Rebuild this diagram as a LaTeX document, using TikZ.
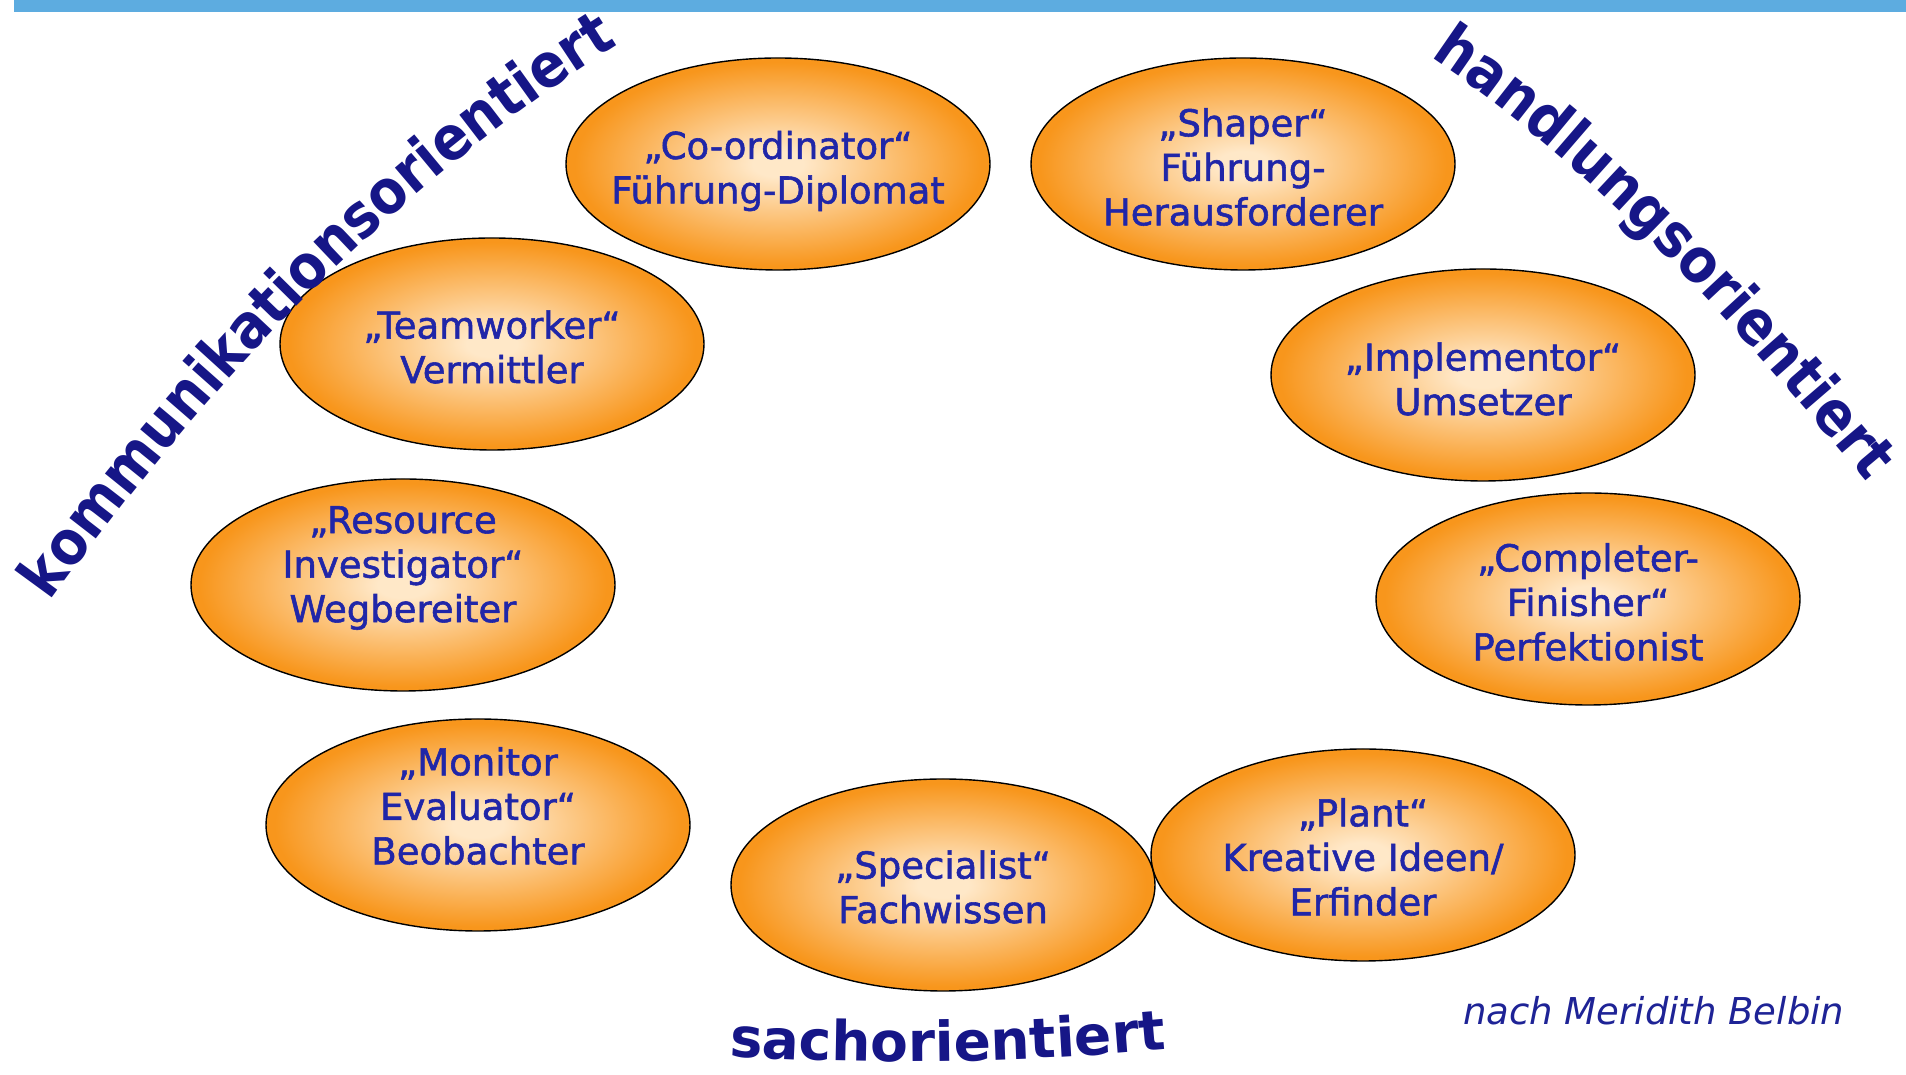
\documentclass[tikz,border=0pt]{standalone}
\usepackage{fontspec}
\setmainfont{DejaVu Sans}
\newfontfamily\curvefont{DejaVu Sans}[FakeStretch=0.89]
\newfontfamily\sachfont{DejaVu Sans}
\newfontfamily\eggfont{DejaVu Sans}[FakeBold=1.5]
\usetikzlibrary{shapes.geometric,decorations.text}
\definecolor{barblue}{RGB}{93,172,224}
\definecolor{eggin}{RGB}{255,232,200}
\definecolor{eggout}{RGB}{248,150,28}
\definecolor{eggtxt}{RGB}{32,38,168}
\definecolor{curvetxt}{RGB}{22,22,135}
\definecolor{credittxt}{RGB}{30,35,150}
\pgfdeclareradialshading{eggshade}{\pgfpoint{0bp}{0bp}}{color(0bp)=(eggin); color(3bp)=(eggin); color(24bp)=(eggout); color(50bp)=(eggout)}
\begin{document}
\begin{tikzpicture}[x=1pt,y=1pt,
  egg/.style={ellipse, draw=black, line width=1.4pt, shade, shading=eggshade,
    minimum width=424pt, minimum height=212pt, inner sep=0pt},
  eggtext/.style={align=center, text=eggtxt, font=\eggfont\fontsize{37}{44.5}\selectfont, inner sep=0pt}
]
\useasboundingbox (0,0) rectangle (1906,1075);
\fill[white] (0,0) rectangle (1906,1075);
\fill[barblue] (14,1063) rectangle (1906,1075);

% ellipses
\node[egg] (coord) at (778,911) {};
\node[eggtext] (coordt) at ([yshift=-7pt]coord.center) {„Co-ordinator“\\Führung-Diplomat};
\node[egg] (shaper) at (1243,911) {};
\node[eggtext] (shapert) at ([yshift=-3pt]shaper.center) {„Shaper“\\Führung-\\Herausforderer};
\node[egg] (team) at (492,731) {};
\node[eggtext] (teamt) at ([yshift=-3pt]team.center) {„Teamworker“\\Vermittler};
\node[egg] (impl) at (1483,700) {};
\node[eggtext] (implt) at ([yshift=-4pt]impl.center) {„Implementor“\\Umsetzer};
\node[egg] (res) at (403,490) {};
\node[eggtext] (rest) at ([yshift=17pt]res.center) {„Resource\\Investigator“\\Wegbereiter};
\node[egg] (compl) at (1588,476) {};
\node[eggtext] (complt) at ([yshift=-3pt]compl.center) {„Completer-\\Finisher“\\Perfektionist};
\node[egg] (mon) at (478,250) {};
\node[eggtext] (mont) at ([yshift=19pt]mon.center) {„Monitor\\Evaluator“\\Beobachter};
\node[egg] (spec) at (943,190) {};
\node[eggtext] (spect) at ([yshift=-2pt]spec.center) {„Specialist“\\Fachwissen};
\node[egg] (plant) at (1363,220) {};
\node[eggtext] (plantt) at ([yshift=-2pt]plant.center) {„Plant“\\Kreative Ideen/\\Erfinder};

% curved labels
\path[decorate, decoration={text along path, text color=curvetxt,
  text={|\curvefont\bfseries\fontsize{61}{64}\selectfont|kommunikationsorientiert}}]
  (50,473) .. controls (214,700) and (402,898) .. (634,1040) -- (700,1080);
\path[decorate, decoration={text along path, text color=curvetxt,
  text={|\curvefont\bfseries\fontsize{61}{64}\selectfont|handlungsorientiert}}]
  (1430,1018) .. controls (1602,903) and (1739,746) .. (1871,588) -- (1910,545);
\path[decorate, decoration={text along path, text color=curvetxt,
  text={|\sachfont\bfseries\fontsize{55}{60}\selectfont|sachorientiert}}]
  (729,19) .. controls (880,9) and (1030,13) .. (1170,26) -- (1230,33);

\node[anchor=base west, inner sep=0pt, text=credittxt,
  font=\itshape\fontsize{37}{44}\selectfont] (credit) at (1463,50) {nach Meridith Belbin};
\end{tikzpicture}
\end{document}
